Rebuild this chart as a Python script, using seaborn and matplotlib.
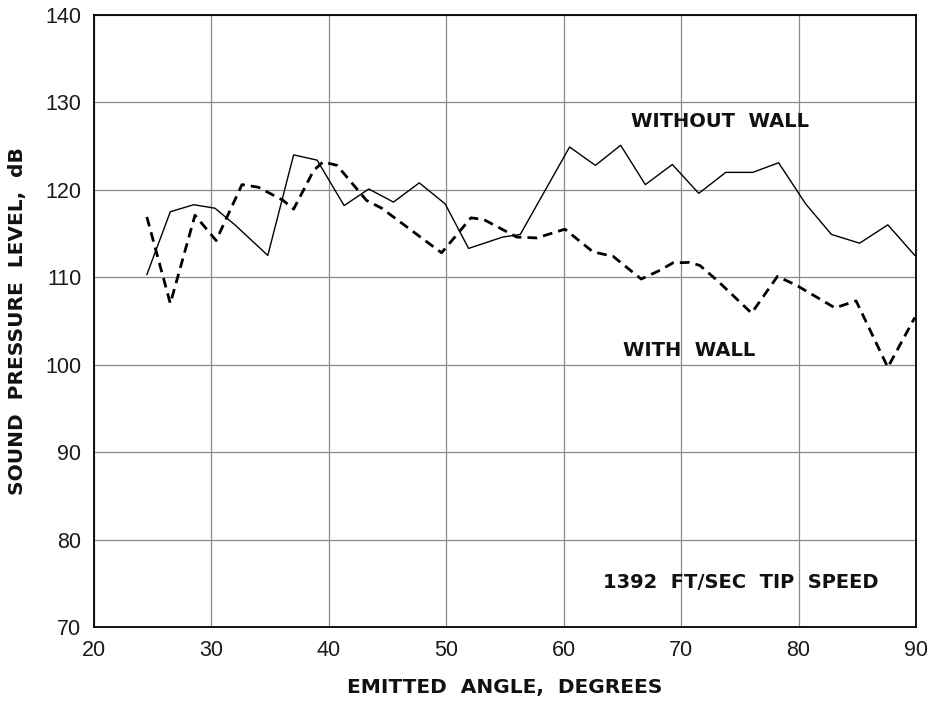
import matplotlib
matplotlib.use("Agg")
import matplotlib.pyplot as plt
import seaborn as sns
import pandas as pd

# WITHOUT WALL (solid)
angle_without = [24.5, 26.5, 28.5, 30.3, 32.0, 34.8, 37.0, 39.0, 41.3, 43.4, 45.5, 47.7,
                 49.9, 51.9, 54.8, 56.3, 60.5, 62.7, 64.85, 66.95, 69.25, 71.5, 73.8,
                 76.1, 78.3, 80.6, 82.8, 85.2, 87.6, 89.9]
spl_without = [110.3, 117.5, 118.3, 117.9, 116.0, 112.5, 124.0, 123.4, 118.2, 120.1, 118.6, 120.8,
               118.4, 113.3, 114.6, 114.9, 124.9, 122.8, 125.1, 120.6, 122.9, 119.6, 122.0,
               122.0, 123.1, 118.4, 114.9, 113.9, 116.0, 112.5]

# WITH WALL (dashed)
angle_with = [24.5, 26.5, 28.6, 30.4, 32.6, 34.0, 36.1, 37.0, 38.7, 39.5, 40.7, 43.2, 44.5,
              49.6, 52.1, 53.2, 56.0, 57.7, 60.1, 62.5, 64.2, 66.6, 68.2, 69.3, 70.7, 71.6,
              73.1, 76.0, 78.2, 79.8, 83.1, 84.9, 87.6, 89.9]
spl_with = [116.9, 107.0, 117.1, 114.2, 120.6, 120.3, 118.8, 117.8, 122.2, 123.2, 122.8, 118.8, 117.9,
            112.8, 116.8, 116.6, 114.6, 114.5, 115.5, 112.9, 112.4, 109.8, 110.8, 111.65, 111.7, 111.35,
            109.6, 105.9, 110.1, 109.1, 106.5, 107.3, 99.7, 105.4]

x_ticks = [20, 30, 40, 50, 60, 70, 80, 90]
y_ticks = [70, 80, 90, 100, 110, 120, 130, 140]

df_without = pd.DataFrame({"angle": angle_without, "spl": spl_without})
df_with = pd.DataFrame({"angle": angle_with, "spl": spl_with})

sns.set_theme(style="white")
plt.rcParams['font.family'] = ['Liberation Sans', 'DejaVu Sans']

fig = plt.figure(figsize=(9.31, 7.02), dpi=100)
ax = fig.add_axes([94/931, 1 - 627/702, (916-94)/931, (627-15)/702])

sns.lineplot(data=df_without, x="angle", y="spl", ax=ax, color="black",
             linewidth=1.0, sort=False, estimator=None)
sns.lineplot(data=df_with, x="angle", y="spl", ax=ax, color="black",
             linewidth=2.0, sort=False, estimator=None, dashes=False)
ax.lines[1].set_dashes((3.5, 2.2))

ax.set_xlim(20, 90)
ax.set_ylim(70, 140)
ax.set_xticks(x_ticks)
ax.set_yticks(y_ticks)
ax.grid(True, color="#8a8a8a", linewidth=0.9)
ax.set_axisbelow(True)
for s in ax.spines.values():
    s.set_visible(True)
    s.set_color("black")
    s.set_linewidth(1.3)
ax.tick_params(axis="both", length=0, labelsize=15.5, colors="#1a1a1a")
ax.tick_params(axis="x", pad=9)
ax.tick_params(axis="y", pad=9)

bold = dict(family=["DejaVu Sans"], fontweight="bold", color="#111111")
ax.set_xlabel("EMITTED  ANGLE,  DEGREES", fontsize=14.5, **bold)
ax.set_ylabel("SOUND  PRESSURE  LEVEL,  dB", fontsize=14.5, **bold)
ax.xaxis.set_label_coords(0.5, -0.084)
ax.yaxis.set_label_coords(-0.082, 0.5)

ax.text(73.3, 127.8, "WITHOUT  WALL", fontsize=14, ha="center", va="center", **bold)
ax.text(70.7, 101.6, "WITH  WALL", fontsize=14, ha="center", va="center", **bold)
ax.text(75.1, 75.1, "1392  FT/SEC  TIP  SPEED", fontsize=14, ha="center", va="center", **bold)

fig.savefig("out.png", dpi=100)
